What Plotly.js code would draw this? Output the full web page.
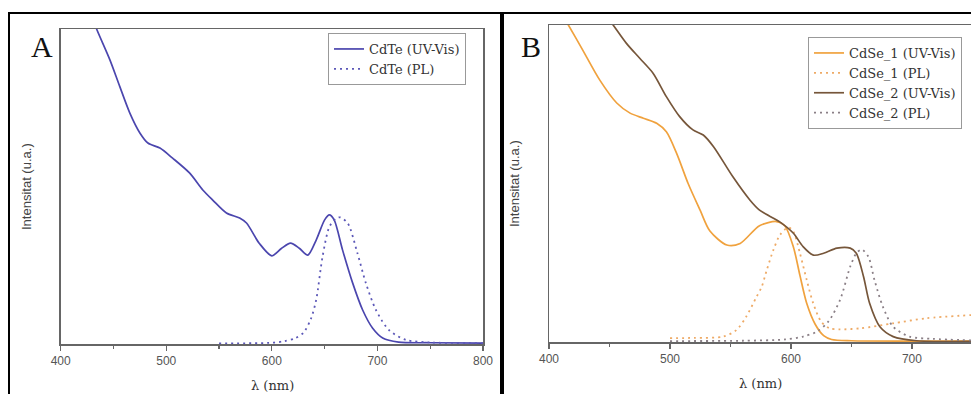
<!DOCTYPE html>
<html>
<head>
<meta charset="utf-8">
<script src="https://cdn.plot.ly/plotly-3.0.1.min.js"></script>
<style>html,body{margin:0;padding:0;background:#fff;}#chart{width:971px;height:394px;}</style>
</head>
<body>
<div id="chart"></div>
<script>
// ---- Panel A: CdTe ----
const cdteUvX = [425, 434, 446.6, 456, 465.5, 475, 482.6, 494, 506, 522, 534.6, 544, 557, 569.5, 576, 588, 600, 609, 617.7, 626, 634, 642, 650, 654.5, 659, 667, 676.5, 686, 695.5, 705, 720, 750, 800];
const cdteUvY = [108, 100, 90.2, 81.7, 73.3, 67, 63.8, 62.2, 59, 54.3, 48.9, 45.7, 41.6, 40, 38.4, 32, 28, 30.3, 32, 30.4, 28.2, 33, 39.4, 41, 39.4, 29.8, 19.4, 10.8, 5, 1.9, 0.6, 0.4, 0.3];
const cdtePlX = [550, 600, 612, 622, 630, 637, 642, 648, 654.5, 661, 665, 672, 681, 689, 698.6, 711, 727, 750, 800];
const cdtePlY = [0.2, 0.4, 0.9, 1.8, 3.6, 8, 14, 27.7, 37.2, 39.9, 40.2, 38.3, 28.9, 19.4, 10.8, 4.4, 1.3, 0.5, 0.3];

// ---- Panel B: CdSe ----
const cdse1UvX = [405, 416, 428, 442, 456, 467, 478, 489, 497, 505.5, 515, 525, 533, 547, 558, 574, 588, 595, 602, 607.4, 613, 620, 627, 633.6, 650, 700, 750];
const cdse1UvY = [107, 100, 92, 82.6, 75.4, 72.2, 70.6, 69, 66.3, 59.5, 50, 41.5, 35, 30.6, 31.1, 36.7, 38, 36.6, 30, 21, 12.2, 5.6, 2, 0.8, 0.4, 0.3, 0.3];
const cdse1PlX = [500, 520, 544, 555, 563, 571.6, 575.8, 580, 585.4, 591, 597.8, 602, 607.4, 613, 618.4, 625, 632, 640.5, 657, 684.5, 712, 749];
const cdse1PlY = [1.2, 1.3, 1.7, 3.8, 8, 14.3, 17.4, 22.7, 29, 33.8, 36.2, 34.8, 28, 19.6, 12.2, 6.4, 4.3, 4, 4.3, 5.9, 7.5, 8.5];
const cdse2UvX = [440, 453, 464, 475, 486, 497, 508, 519, 527.5, 536, 552, 566, 574, 591, 602, 610, 618.5, 627, 638, 649, 654, 660, 665, 673.5, 684.5, 704, 750];
const cdse2UvY = [106.8, 100, 94.2, 89.5, 84.8, 77.4, 71.1, 66.9, 65.3, 61.6, 52.1, 44.8, 41.6, 37.8, 34.3, 30.1, 27.4, 28, 29.6, 29.6, 28, 20.6, 12.2, 4.8, 1.7, 0.4, 0.2];
const cdse2PlX = [500, 560, 595, 610, 622, 631, 640.5, 649, 654, 658.4, 664, 669, 676, 684.5, 698, 717, 749];
const cdse2PlY = [0.3, 0.4, 0.8, 1.7, 3.4, 6.5, 13.2, 23.8, 28, 29.2, 26.9, 19.6, 11.1, 4.8, 1.7, 1, 0.5];

const legendA = ["CdTe (UV-Vis)", "CdTe (PL)"];
const legendB = ["CdSe_1 (UV-Vis)", "CdSe_1 (PL)", "CdSe_2 (UV-Vis)", "CdSe_2 (PL)"];
const xTicksA = [400, 500, 600, 700, 800];
const xTicksB = [400, 500, 600, 700];

const W = 971, H = 394;
const px = v => v / W;
const py = v => 1 - v / H;

const blue = '#4b46ae', orange = '#f0a23e', brown = '#76563a';
const dotDash = '2px,4px';

const traces = [
  {x: cdteUvX, y: cdteUvY, name: legendA[0], type: 'scatter', mode: 'lines', xaxis: 'x', yaxis: 'y', legend: 'legend',
   line: {color: blue, width: 1.7, shape: 'spline', smoothing: 0.8}},
  {x: cdtePlX, y: cdtePlY, name: legendA[1], type: 'scatter', mode: 'lines', xaxis: 'x', yaxis: 'y', legend: 'legend',
   line: {color: '#5c58b8', width: 1.8, dash: dotDash, shape: 'spline', smoothing: 0.8}},
  {x: cdse1UvX, y: cdse1UvY, name: legendB[0], type: 'scatter', mode: 'lines', xaxis: 'x2', yaxis: 'y2', legend: 'legend2',
   line: {color: orange, width: 1.7, shape: 'spline', smoothing: 0.8}},
  {x: cdse1PlX, y: cdse1PlY, name: legendB[1], type: 'scatter', mode: 'lines', xaxis: 'x2', yaxis: 'y2', legend: 'legend2',
   line: {color: '#eeaa66', width: 1.8, dash: dotDash, shape: 'spline', smoothing: 0.8}},
  {x: cdse2UvX, y: cdse2UvY, name: legendB[2], type: 'scatter', mode: 'lines', xaxis: 'x2', yaxis: 'y2', legend: 'legend2',
   line: {color: brown, width: 1.7, shape: 'spline', smoothing: 0.8}},
  {x: cdse2PlX, y: cdse2PlY, name: legendB[3], type: 'scatter', mode: 'lines', xaxis: 'x2', yaxis: 'y2', legend: 'legend2',
   line: {color: '#8a7f86', width: 1.8, dash: dotDash, shape: 'spline', smoothing: 0.8}}
];

const axisLine = '#666';
const tickFont = {family: 'Liberation Sans, Arial, sans-serif', size: 12, color: '#555'};
const legendFont = {family: 'DejaVu Serif, serif', size: 13, color: '#333'};

const layout = {
  width: W, height: H,
  margin: {l: 0, r: 0, t: 0, b: 0},
  paper_bgcolor: '#fff', plot_bgcolor: '#fff',
  showlegend: true,
  xaxis: {domain: [px(60.7), px(483)], range: [400, 800], tickvals: xTicksA, ticktext: xTicksA.map(String),
    ticks: 'outside', ticklen: 5, tickwidth: 1.2, tickcolor: axisLine,
    minor: {dtick: 50, tick0: 400, ticks: 'outside', ticklen: 3, tickcolor: axisLine, showgrid: false},
    showline: true, linecolor: axisLine, linewidth: 1.5, mirror: true, showgrid: false, zeroline: false,
    tickfont: tickFont, anchor: 'y', fixedrange: true},
  yaxis: {domain: [py(344), py(29)], range: [0, 100], showticklabels: false, ticks: '',
    showline: true, linecolor: axisLine, linewidth: 1.5, mirror: true, showgrid: false, zeroline: false, anchor: 'x', fixedrange: true},
  xaxis2: {domain: [px(549), 1], range: [400, 748.8], tickvals: xTicksB, ticktext: xTicksB.map(String),
    ticks: 'outside', ticklen: 5, tickwidth: 1.2, tickcolor: axisLine,
    minor: {dtick: 50, tick0: 400, ticks: 'outside', ticklen: 3, tickcolor: axisLine, showgrid: false},
    showline: true, linecolor: axisLine, linewidth: 1.5, mirror: true, showgrid: false, zeroline: false,
    tickfont: tickFont, anchor: 'y2', fixedrange: true},
  yaxis2: {domain: [py(342), py(25)], range: [0, 100], showticklabels: false, ticks: '',
    showline: true, linecolor: axisLine, linewidth: 1.5, mirror: false, showgrid: false, zeroline: false, anchor: 'x2', fixedrange: true},
  legend: {x: px(328), y: py(33), xanchor: 'left', yanchor: 'top', bgcolor: '#fff', bordercolor: '#999', borderwidth: 1,
    font: legendFont, tracegroupgap: 0, itemwidth: 30},
  legend2: {x: px(808), y: py(37), xanchor: 'left', yanchor: 'top', bgcolor: '#fff', bordercolor: '#999', borderwidth: 1,
    font: legendFont, tracegroupgap: 0, itemwidth: 30},
  shapes: [
    {type: 'rect', xref: 'paper', yref: 'paper', x0: px(9), x1: px(501), y0: -0.1, y1: py(13), line: {color: '#000', width: 2}},
    {type: 'rect', xref: 'paper', yref: 'paper', x0: px(503), x1: 1.05, y0: -0.1, y1: py(13), line: {color: '#000', width: 2}}
  ],
  annotations: [
    {text: 'A', xref: 'paper', yref: 'paper', x: px(42), y: py(47), showarrow: false, xanchor: 'center', yanchor: 'middle',
      font: {family: 'Liberation Serif, serif', size: 30, color: '#111'}},
    {text: 'B', xref: 'paper', yref: 'paper', x: px(531), y: py(47), showarrow: false, xanchor: 'center', yanchor: 'middle',
      font: {family: 'Liberation Serif, serif', size: 30, color: '#111'}},
    {text: 'Intensitat (u.a.)', xref: 'paper', yref: 'paper', x: px(26), y: py(187), textangle: -90, showarrow: false,
      xanchor: 'center', yanchor: 'middle', font: {family: 'Liberation Sans, Arial, sans-serif', size: 13, color: '#444'}},
    {text: 'Intensitat (u.a.)', xref: 'paper', yref: 'paper', x: px(514), y: py(184), textangle: -90, showarrow: false,
      xanchor: 'center', yanchor: 'middle', font: {family: 'Liberation Sans, Arial, sans-serif', size: 13, color: '#444'}},
    {text: 'λ (nm)', xref: 'paper', yref: 'paper', x: px(272), y: py(385), showarrow: false, xanchor: 'center', yanchor: 'middle',
      font: {family: 'DejaVu Serif, serif', size: 13, color: '#333'}},
    {text: 'λ (nm)', xref: 'paper', yref: 'paper', x: px(760), y: py(383), showarrow: false, xanchor: 'center', yanchor: 'middle',
      font: {family: 'DejaVu Serif, serif', size: 13, color: '#333'}}
  ]
};

Plotly.newPlot('chart', traces, layout, {staticPlot: true, displayModeBar: false});
</script>
</body>
</html>
